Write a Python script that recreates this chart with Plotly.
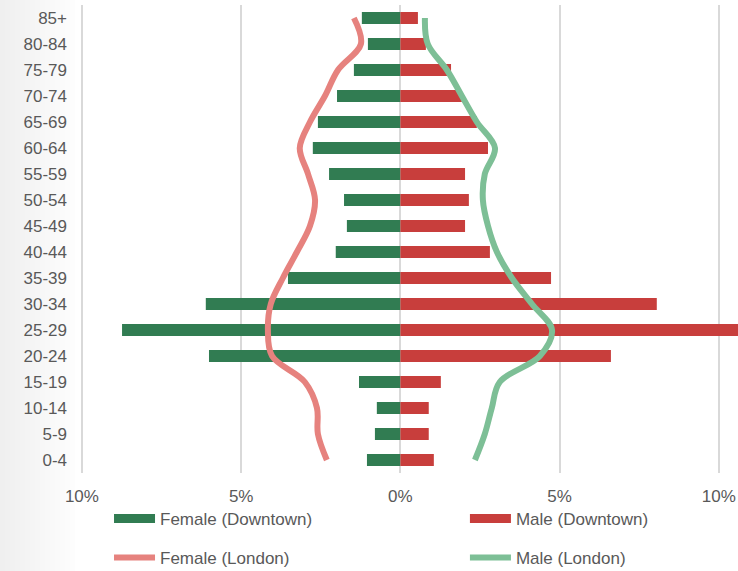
import plotly.graph_objects as go

# Age bands, bottom to top
age_groups = ["0-4", "5-9", "10-14", "15-19", "20-24", "25-29", "30-34", "35-39",
              "40-44", "45-49", "50-54", "55-59", "60-64", "65-69", "70-74",
              "75-79", "80-84", "85+"]

# Share of population (%) in each age band
female_downtown = [1.05, 0.80, 0.74, 1.30, 6.01, 8.74, 6.11, 3.53, 2.03, 1.68,
                   1.77, 2.24, 2.75, 2.59, 1.99, 1.46, 1.02, 1.21]
male_downtown = [1.05, 0.89, 0.89, 1.27, 6.61, 10.8, 8.05, 4.73, 2.81, 2.03,
                 2.15, 2.03, 2.75, 2.40, 1.93, 1.59, 0.80, 0.55]
female_london = [2.31, 2.59, 2.62, 3.00, 4.03, 4.16, 4.07, 3.69, 3.25, 2.84,
                 2.68, 2.90, 3.16, 2.84, 2.37, 1.96, 1.24, 1.46]
male_london = [2.34, 2.65, 2.87, 3.12, 4.38, 4.76, 4.13, 3.50, 3.03, 2.75,
               2.59, 2.65, 2.97, 2.40, 1.93, 1.46, 0.86, 0.77]

tick_values = [-10, -5, 0, 5, 10]
tick_labels = ["10%", "5%", "0%", "5%", "10%"]

GREEN_BAR = "#317c52"
RED_BAR = "#c83e3c"
PINK_LINE = "#e6827e"
GREEN_LINE = "#7dbf96"
TEXT = "#595959"
FONT = "Liberation Sans, Arial, sans-serif"

fig = go.Figure()

fig.add_trace(go.Bar(
    y=age_groups, x=[-v for v in female_downtown], orientation="h",
    marker=dict(color=GREEN_BAR, line=dict(width=0)), width=0.46,
    name="Female (Downtown)", showlegend=False))
fig.add_trace(go.Bar(
    y=age_groups, x=male_downtown, orientation="h",
    marker=dict(color=RED_BAR, line=dict(width=0)), width=0.46,
    name="Male (Downtown)", showlegend=False))

fig.add_trace(go.Scatter(
    y=age_groups, x=[-v for v in female_london], mode="lines",
    line=dict(color=PINK_LINE, width=6, shape="spline", smoothing=1),
    name="Female (London)", legend="legend3"))
fig.add_trace(go.Scatter(
    y=age_groups, x=male_london, mode="lines",
    line=dict(color=GREEN_LINE, width=6, shape="spline", smoothing=1),
    name="Male (London)", legend="legend4"))

# Legend keys for the bar series (wide flat swatches)
fig.add_trace(go.Scatter(
    y=[None], x=[None], mode="lines", line=dict(color=GREEN_BAR, width=9),
    name="Female (Downtown)", legend="legend"))
fig.add_trace(go.Scatter(
    y=[None], x=[None], mode="lines", line=dict(color=RED_BAR, width=9),
    name="Male (Downtown)", legend="legend2"))

# Soft grey fade along the left edge of the page
plot_w = 738 - 80
strips = 16
for i in range(strips):
    x0 = -80 + i * 5
    shade = int(0xef + (0xff - 0xef) * i / (strips - 1))
    fig.add_shape(type="rect", xref="paper", yref="paper",
                  x0=x0 / plot_w, x1=(x0 + 5) / plot_w,
                  y0=-0.3, y1=1.02, line=dict(width=0),
                  fillcolor=f"rgb({shade},{shade},{shade})", layer="below")

legend_common = dict(
    orientation="h", xanchor="left", yanchor="middle",
    font=dict(family=FONT, size=17, color=TEXT),
    bgcolor="rgba(0,0,0,0)", itemwidth=41)

col_left, col_right = 0.0441, 0.585
row_top, row_bottom = -0.0983, -0.1816

fig.update_layout(
    width=738, height=571,
    margin=dict(l=80, r=0, t=5, b=98, autoexpand=False),
    paper_bgcolor="white", plot_bgcolor="white",
    barmode="relative", bargap=0.54,
    font=dict(family=FONT, size=17, color=TEXT),
    xaxis=dict(range=[-10.06, 10.6], autorange=False,
               tickvals=tick_values, ticktext=tick_labels,
               showgrid=True, gridcolor="#d9d9d9", gridwidth=1.5,
               zeroline=True, zerolinecolor="#d9d9d9", zerolinewidth=1.5,
               showline=False, ticks="", ticklabelstandoff=11,
               tickfont=dict(family=FONT, size=17, color=TEXT), fixedrange=True),
    yaxis=dict(type="category", categoryorder="array", categoryarray=age_groups,
               range=[-0.5, len(age_groups) - 0.5], autorange=False,
               showgrid=False, zeroline=False, showline=False, ticks="",
               ticklabelstandoff=12,
               tickfont=dict(family=FONT, size=17, color=TEXT), fixedrange=True),
    legend=dict(x=col_left, y=row_top, **legend_common),
    legend2=dict(x=col_right, y=row_top, **legend_common),
    legend3=dict(x=col_left, y=row_bottom, **legend_common),
    legend4=dict(x=col_right, y=row_bottom, **legend_common),
    showlegend=True,
)

fig.write_html("out.html")
